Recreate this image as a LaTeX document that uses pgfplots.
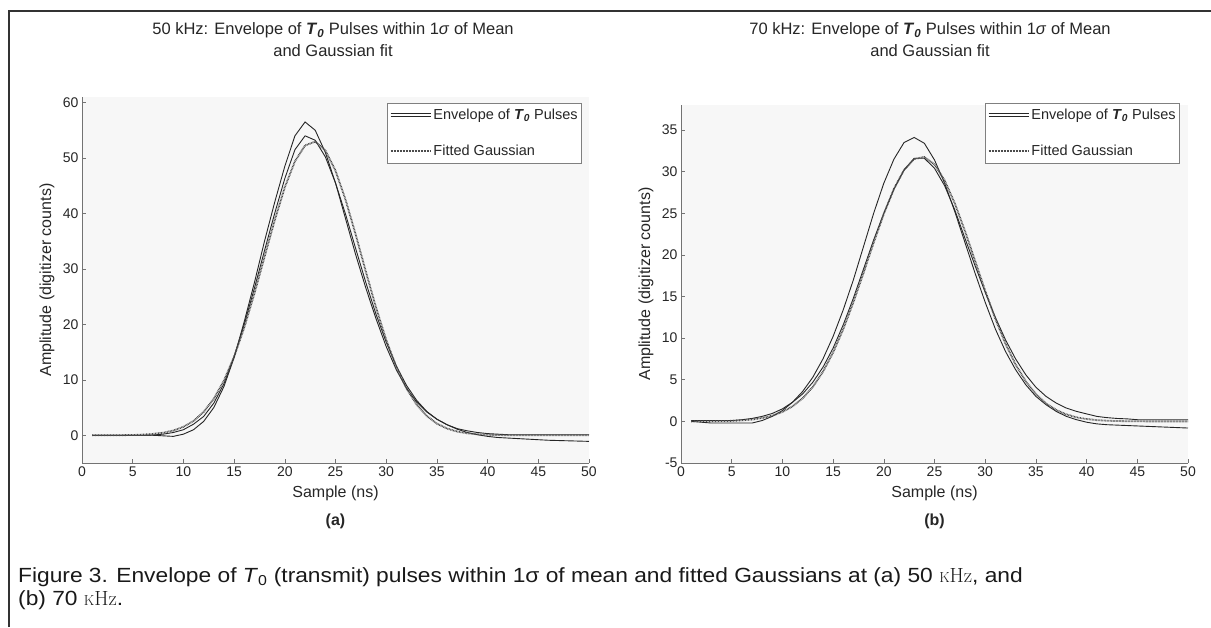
\documentclass[border=0pt]{standalone}
\usepackage{fontspec}
\setmainfont{Liberation Sans}
\newfontfamily\capfont[FakeStretch=1.11]{Liberation Sans}
\newfontfamily\lmr{Latin Modern Roman}
\usepackage{pgfplots}
\pgfplotsset{compat=1.18}
\newcommand{\Tz}{\textbf{\textit{T}}\textsubscript{\textbf{\textit{0}}}}
\pgfplotsset{
  mystyle/.style={
    scale only axis, anchor=south west, clip=false,
    axis background/.style={fill=black!3},
    axis lines=left, axis line style={draw=black!55, line width=0.6pt, -},
    tick style={black!55, line width=0.6pt},
    tick align=inside, major tick length=4pt,
    xmin=0, xmax=50, xtick={0,5,...,50},
    /pgf/number format/assume math mode=true,
    tick label style={font=\fontsize{14}{16}\selectfont, text=black!85},
    every axis y label/.style={at={(axis description cs:-0.069,0.5)}, rotate=90, anchor=center, font=\fontsize{16}{18}\selectfont, text=black!85},
    every axis x label/.style={at={(axis description cs:0.5,0)}, anchor=center, yshift=-30pt, font=\fontsize{16}{18}\selectfont, text=black!85},
    xlabel={Sample (ns)}, ylabel={Amplitude (digitizer counts)},
    legend style={draw=black!50, fill=white, line width=0.5pt, font=\fontsize{14.5}{16}\selectfont, row sep=20pt, inner xsep=2pt, inner ysep=4pt, cells={anchor=west}, text=black!85},
    legend image code/.code={\draw[##1] (0pt,0pt)--(40pt,0pt);},
  },
  env/.style={black!85, line width=0.9pt},
  envleg/.style={legend image code/.code={\draw[black!85, line width=0.8pt] (0pt,1.7pt)--(40pt,1.7pt); \draw[black!85, line width=0.8pt] (0pt,-1.7pt)--(40pt,-1.7pt);}},
  fit/.style={black!70, line width=1.8pt, dash pattern=on 0.8pt off 0.7pt},
}
\begin{document}
\begin{tikzpicture}
\useasboundingbox (0pt,0pt) rectangle (1211pt,627pt);
\draw[black!80, line width=1.5pt] (9pt,0pt) -- (9pt,616pt) -- (1212pt,616pt);

% titles
\node[anchor=base, font=\fontsize{16.5}{18}\selectfont, text=black!85] at (333pt,592pt) {50 kHz: Envelope of \Tz{} Pulses within 1\textit{σ} of Mean};
\node[anchor=base, font=\fontsize{16.5}{18}\selectfont, text=black!85] at (333pt,570pt) {and Gaussian fit};
\node[anchor=base, font=\fontsize{16.5}{18}\selectfont, text=black!85] at (930pt,592pt) {70 kHz: Envelope of \Tz{} Pulses within 1\textit{σ} of Mean};
\node[anchor=base, font=\fontsize{16.5}{18}\selectfont, text=black!85] at (930pt,570pt) {and Gaussian fit};

\begin{axis}[mystyle, at={(82pt,164pt)}, width=507pt, height=366pt,
  ymin=-5, ymax=61, ytick={0,10,...,60},
  legend style={at={(0.986,0.984)}, anchor=north east}]
\addplot[env, envleg] coordinates {
(1,0) (2,0) (3,0) (4,0) (5,0) (6,0) (7,0) (8,-0.1) (9,-0.2) (10,0.2) (11,1.0) (12,2.5) (13,5.0) (14,8.8) (15,14.0) (16,20.5) (17,27.5) (18,35.0) (19,42.0) (20,48.5) (21,54.0) (22,56.5) (23,55.0) (24,51.0) (25,45.5) (26,39.0) (27,32.5) (28,26.5) (29,21.0) (30,16.0) (31,11.8) (32,8.5) (33,6.0) (34,4.2) (35,2.9) (36,1.9) (37,1.1) (38,0.5) (39,0.1) (40,-0.2) (41,-0.4) (42,-0.5) (44,-0.7) (46,-0.9) (48,-1.0) (50,-1.1)};
\addlegendentry{Envelope of \Tz{} Pulses}
\addplot[env, forget plot] coordinates {
(1,0) (2,0) (3,0) (4,0) (5,0) (6,0) (7,0.05) (8,0.2) (9,0.5) (10,1.0) (11,2.0) (12,3.4) (13,5.8) (14,9.3) (15,14.2) (16,20.0) (17,26.5) (18,33.3) (19,40.0) (20,46.3) (21,51.5) (22,54.0) (23,53.2) (24,50.2) (25,45.5) (26,39.8) (27,33.6) (28,27.5) (29,21.8) (30,16.8) (31,12.5) (32,9.0) (33,6.3) (34,4.3) (35,2.9) (36,1.9) (37,1.2) (38,0.8) (39,0.5) (40,0.3) (41,0.2) (42,0.1) (44,0.1) (46,0.1) (48,0.1) (50,0.1)};
\addplot[fit] coordinates {
(1,0) (2,0) (3,0.01) (4,0.02) (5,0.05) (6,0.12) (7,0.24) (8,0.46) (9,0.85) (10,1.52) (11,2.58) (12,4.22) (13,6.59) (14,9.87) (15,14.16) (16,19.43) (17,25.54) (18,32.15) (19,38.74) (20,44.71) (21,49.40) (22,52.27) (23,52.95) (24,51.37) (25,47.72) (26,42.44) (27,36.14) (28,29.47) (29,23.01) (30,17.21) (31,12.32) (32,8.44) (33,5.54) (34,3.48) (35,2.10) (36,1.21) (37,0.67) (38,0.35) (39,0.18) (40,0.09) (41,0.04) (42,0.02) (44,0) (46,0) (48,0) (50,0)};
\addlegendentry{Fitted Gaussian}
\node[font=\bfseries\fontsize{16}{18}\selectfont, text=black!85] at (rel axis cs:0.5,0) [yshift=-58pt] {(a)};
\end{axis}

\begin{axis}[mystyle, at={(681pt,164pt)}, width=507pt, height=358pt,
  ymin=-5, ymax=38, ytick={-5,0,...,35},
  legend style={at={(0.984,1.006)}, anchor=north east}]
\addplot[env, envleg] coordinates {
(1,0) (2,-0.1) (3,-0.2) (4,-0.2) (5,-0.2) (6,-0.2) (7,-0.2) (8,0.1) (9,0.6) (10,1.3) (11,2.3) (12,3.6) (13,5.3) (14,7.5) (15,10.2) (16,13.4) (17,17.0) (18,21.0) (19,25.0) (20,28.6) (21,31.5) (22,33.5) (23,34.1) (24,33.4) (25,31.4) (26,28.6) (27,25.2) (28,21.5) (29,17.8) (30,14.3) (31,11.1) (32,8.4) (33,6.2) (34,4.4) (35,3.0) (36,2.0) (37,1.2) (38,0.6) (39,0.2) (40,-0.1) (41,-0.3) (42,-0.4) (44,-0.5) (46,-0.6) (48,-0.7) (50,-0.8)};
\addlegendentry{Envelope of \Tz{} Pulses}
\addplot[env, forget plot] coordinates {
(1,0.1) (2,0.1) (3,0.1) (4,0.1) (5,0.1) (6,0.2) (7,0.35) (8,0.6) (9,0.95) (10,1.5) (11,2.3) (12,3.3) (13,4.7) (14,6.5) (15,8.8) (16,11.6) (17,14.8) (18,18.3) (19,21.8) (20,25.0) (21,27.9) (22,30.2) (23,31.6) (24,31.6) (25,30.4) (26,28.3) (27,25.4) (28,22.0) (29,18.7) (30,15.5) (31,12.5) (32,9.8) (33,7.5) (34,5.6) (35,4.1) (36,3.0) (37,2.2) (38,1.6) (39,1.2) (40,0.9) (41,0.6) (42,0.45) (43,0.35) (44,0.3) (45,0.2) (47,0.2) (50,0.2)};
\addplot[fit] coordinates {
(1,0) (2,0.01) (3,0.02) (4,0.04) (5,0.06) (6,0.12) (7,0.22) (8,0.40) (9,0.68) (10,1.13) (11,1.80) (12,2.78) (13,4.14) (14,5.96) (15,8.27) (16,11.07) (17,14.30) (18,17.83) (19,21.46) (20,24.92) (21,27.93) (22,30.21) (23,31.52) (24,31.75) (25,30.86) (26,28.94) (27,26.20) (28,22.88) (29,19.29) (30,15.69) (31,12.32) (32,9.33) (33,6.82) (34,4.81) (35,3.28) (36,2.15) (37,1.37) (38,0.84) (39,0.49) (40,0.28) (41,0.15) (42,0.08) (43,0.04) (44,0.02) (46,0) (48,0) (50,0)};
\addlegendentry{Fitted Gaussian}
\node[font=\bfseries\fontsize{16}{18}\selectfont, text=black!85] at (rel axis cs:0.5,0) [yshift=-58pt] {(b)};
\end{axis}

% caption
\node[anchor=base west, font=\capfont\fontsize{20.5}{24}\selectfont, text=black!90, inner sep=0pt] at (18pt,45pt) {Figure 3. Envelope of \textit{T}\textsubscript{0} (transmit) pulses within 1σ of mean and fitted Gaussians at (a) 50 {\lmr\fontsize{14.5}{16}\selectfont K}{\lmr Hz}, and};
\node[anchor=base west, font=\capfont\fontsize{20.5}{24}\selectfont, text=black!90, inner sep=0pt] at (18pt,21pt) {(b) 70 {\lmr\fontsize{14.5}{16}\selectfont K}{\lmr Hz}.};
\end{tikzpicture}
\end{document}
